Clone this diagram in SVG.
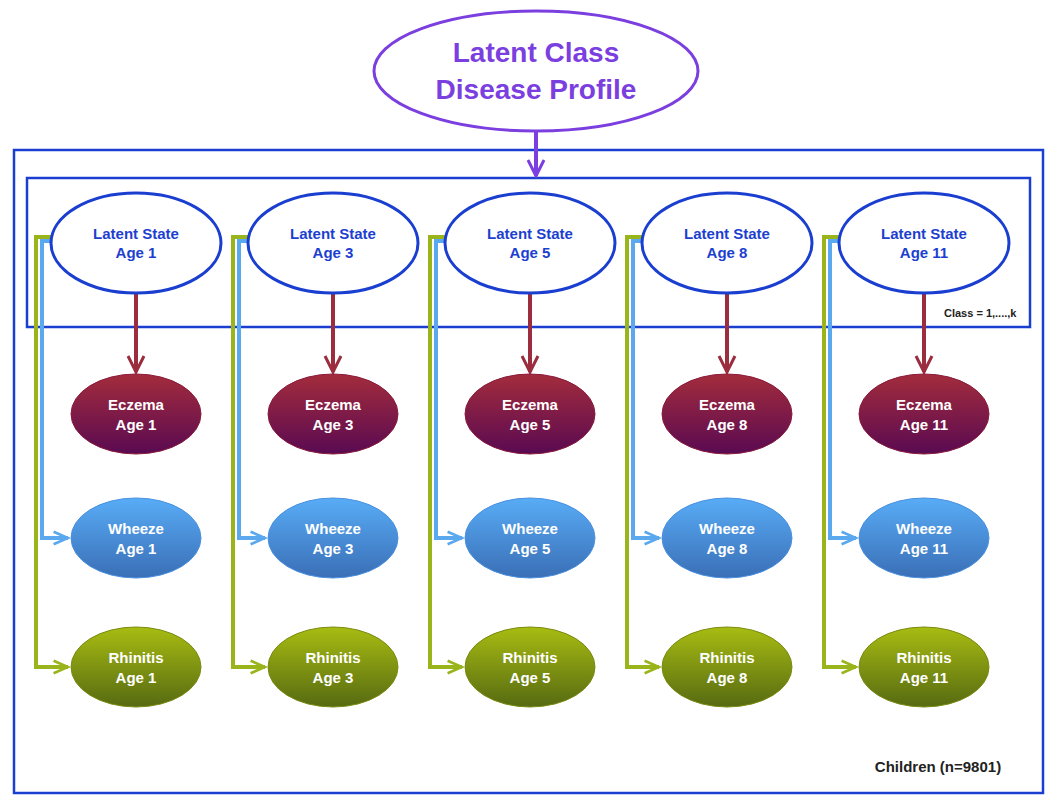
<svg xmlns="http://www.w3.org/2000/svg" width="1049" height="800" viewBox="0 0 1049 800">
<defs>
<linearGradient id="gE" x1="0" y1="0" x2="0" y2="1"><stop offset="0" stop-color="#a32c3c"/><stop offset="1" stop-color="#5a0a52"/></linearGradient>
<linearGradient id="gW" x1="0" y1="0" x2="0" y2="1"><stop offset="0" stop-color="#58acf6"/><stop offset="1" stop-color="#3a6fb6"/></linearGradient>
<linearGradient id="gR" x1="0" y1="0" x2="0" y2="1"><stop offset="0" stop-color="#a8bc12"/><stop offset="1" stop-color="#566a12"/></linearGradient>
<marker id="mR" viewBox="0 0 10 10" refX="9" refY="5" markerWidth="5" markerHeight="5" orient="auto" markerUnits="userSpaceOnUse"><path d="M0,0 L9,5 L0,10" fill="none" stroke="#9b2d3f" stroke-width="1"/></marker>
<marker id="mP" viewBox="0 0 20 20" refX="18" refY="10" markerWidth="20" markerHeight="20" orient="auto" markerUnits="userSpaceOnUse"><path d="M2,2 L18,10 L2,18" fill="none" stroke="#7b3fe0" stroke-width="3"/></marker>
<marker id="mA" viewBox="0 0 20 20" refX="18" refY="10" markerWidth="20" markerHeight="20" orient="auto" markerUnits="userSpaceOnUse"><path d="M2,2 L18,10 L2,18" fill="none" stroke="#9b2d3f" stroke-width="3"/></marker>
<marker id="mB" viewBox="0 0 20 20" refX="18" refY="10" markerWidth="18" markerHeight="18" orient="auto" markerUnits="userSpaceOnUse"><path d="M2,3 L18,10 L2,17" fill="none" stroke="#5aa8ee" stroke-width="3"/></marker>
<marker id="mG" viewBox="0 0 20 20" refX="18" refY="10" markerWidth="18" markerHeight="18" orient="auto" markerUnits="userSpaceOnUse"><path d="M2,3 L18,10 L2,17" fill="none" stroke="#9ab41c" stroke-width="3"/></marker>
<g id="col">
<ellipse cx="0" cy="243" rx="85" ry="50" fill="#fff" stroke="#1a3fd0" stroke-width="3"/>
<text class="ls" x="0" y="239">Latent State</text>
</g>
</defs>
<style>
text{font-family:"Liberation Sans",Arial,sans-serif;font-weight:bold;text-anchor:middle}
.ls{fill:#1d3fd0;font-size:15px}
.w{fill:#fff;font-size:15px}
.ec{fill:url(#gE);stroke:#8a1a3a;stroke-width:1}
.wh{fill:url(#gW);stroke:#4a90e0;stroke-width:1}
.rh{fill:url(#gR);stroke:#7a8a10;stroke-width:1}
.lb{stroke:#5aa8ee;stroke-width:4;fill:none}
.lg{stroke:#9ab41c;stroke-width:4;fill:none}
.lr{stroke:#9b2d3f;stroke-width:4;fill:none}
</style>
<rect width="1049" height="800" fill="#fff"/>
<rect x="14" y="150" width="1029" height="643" fill="none" stroke="#1a3fd0" stroke-width="2.5"/>
<rect x="27" y="178" width="1003" height="149" fill="none" stroke="#1a3fd0" stroke-width="2.5"/>
<text x="944" y="317" style="font-size:11px;fill:#222;text-anchor:start">Class = 1,....,k</text>
<text x="938" y="772" style="font-size:15px;fill:#222">Children (n=9801)</text>
<g id="top">
<ellipse cx="536" cy="71" rx="162" ry="60" fill="#fff" stroke="#7b3fe0" stroke-width="3"/>
<text x="536" y="62" style="font-size:28px;fill:#7b3fe0">Latent Class</text>
<text x="536" y="99" style="font-size:28px;fill:#7b3fe0">Disease Profile</text>
</g>
<g id="connectors">
<line x1="536" y1="131" x2="536" y2="176" stroke="#7b3fe0" stroke-width="4" marker-end="url(#mP)"/>
<g id="c1"><path class="lg" d="M54,237 H36 V667 H68" marker-end="url(#mG)"/><path class="lb" d="M52,241 H42 V538 H68" marker-end="url(#mB)"/><path class="lr" d="M136,293 V372" marker-end="url(#mA)"/></g>
<g transform="translate(197,0)"><path class="lg" d="M54,237 H36 V667 H68" marker-end="url(#mG)"/><path class="lb" d="M52,241 H42 V538 H68" marker-end="url(#mB)"/><path class="lr" d="M136,293 V372" marker-end="url(#mA)"/></g>
<g transform="translate(394,0)"><path class="lg" d="M54,237 H36 V667 H68" marker-end="url(#mG)"/><path class="lb" d="M52,241 H42 V538 H68" marker-end="url(#mB)"/><path class="lr" d="M136,293 V372" marker-end="url(#mA)"/></g>
<g transform="translate(591,0)"><path class="lg" d="M54,237 H36 V667 H68" marker-end="url(#mG)"/><path class="lb" d="M52,241 H42 V538 H68" marker-end="url(#mB)"/><path class="lr" d="M136,293 V372" marker-end="url(#mA)"/></g>
<g transform="translate(788,0)"><path class="lg" d="M54,237 H36 V667 H68" marker-end="url(#mG)"/><path class="lb" d="M52,241 H42 V538 H68" marker-end="url(#mB)"/><path class="lr" d="M136,293 V372" marker-end="url(#mA)"/></g>
</g>
<g id="ls1"><ellipse cx="136" cy="243" rx="85" ry="50" fill="#fff" stroke="#1a3fd0" stroke-width="3"/><text class="ls" x="136" y="239">Latent State</text><text class="ls" x="136" y="258">Age 1</text></g>
<g id="ls3"><ellipse cx="333" cy="243" rx="85" ry="50" fill="#fff" stroke="#1a3fd0" stroke-width="3"/><text class="ls" x="333" y="239">Latent State</text><text class="ls" x="333" y="258">Age 3</text></g>
<g id="ls5"><ellipse cx="530" cy="243" rx="85" ry="50" fill="#fff" stroke="#1a3fd0" stroke-width="3"/><text class="ls" x="530" y="239">Latent State</text><text class="ls" x="530" y="258">Age 5</text></g>
<g id="ls8"><ellipse cx="727" cy="243" rx="85" ry="50" fill="#fff" stroke="#1a3fd0" stroke-width="3"/><text class="ls" x="727" y="239">Latent State</text><text class="ls" x="727" y="258">Age 8</text></g>
<g id="ls11"><ellipse cx="924" cy="243" rx="85" ry="50" fill="#fff" stroke="#1a3fd0" stroke-width="3"/><text class="ls" x="924" y="239">Latent State</text><text class="ls" x="924" y="258">Age 11</text></g>
<g id="ec1"><ellipse class="ec" cx="136" cy="414" rx="65" ry="40"/><text class="w" x="136" y="410">Eczema</text><text class="w" x="136" y="430">Age 1</text></g>
<g id="ec3"><ellipse class="ec" cx="333" cy="414" rx="65" ry="40"/><text class="w" x="333" y="410">Eczema</text><text class="w" x="333" y="430">Age 3</text></g>
<g id="ec5"><ellipse class="ec" cx="530" cy="414" rx="65" ry="40"/><text class="w" x="530" y="410">Eczema</text><text class="w" x="530" y="430">Age 5</text></g>
<g id="ec8"><ellipse class="ec" cx="727" cy="414" rx="65" ry="40"/><text class="w" x="727" y="410">Eczema</text><text class="w" x="727" y="430">Age 8</text></g>
<g id="ec11"><ellipse class="ec" cx="924" cy="414" rx="65" ry="40"/><text class="w" x="924" y="410">Eczema</text><text class="w" x="924" y="430">Age 11</text></g>
<g id="wh1"><ellipse class="wh" cx="136" cy="538" rx="65" ry="40"/><text class="w" x="136" y="534">Wheeze</text><text class="w" x="136" y="554">Age 1</text></g>
<g id="wh3"><ellipse class="wh" cx="333" cy="538" rx="65" ry="40"/><text class="w" x="333" y="534">Wheeze</text><text class="w" x="333" y="554">Age 3</text></g>
<g id="wh5"><ellipse class="wh" cx="530" cy="538" rx="65" ry="40"/><text class="w" x="530" y="534">Wheeze</text><text class="w" x="530" y="554">Age 5</text></g>
<g id="wh8"><ellipse class="wh" cx="727" cy="538" rx="65" ry="40"/><text class="w" x="727" y="534">Wheeze</text><text class="w" x="727" y="554">Age 8</text></g>
<g id="wh11"><ellipse class="wh" cx="924" cy="538" rx="65" ry="40"/><text class="w" x="924" y="534">Wheeze</text><text class="w" x="924" y="554">Age 11</text></g>
<g id="rh1"><ellipse class="rh" cx="136" cy="667" rx="65" ry="40"/><text class="w" x="136" y="663">Rhinitis</text><text class="w" x="136" y="683">Age 1</text></g>
<g id="rh3"><ellipse class="rh" cx="333" cy="667" rx="65" ry="40"/><text class="w" x="333" y="663">Rhinitis</text><text class="w" x="333" y="683">Age 3</text></g>
<g id="rh5"><ellipse class="rh" cx="530" cy="667" rx="65" ry="40"/><text class="w" x="530" y="663">Rhinitis</text><text class="w" x="530" y="683">Age 5</text></g>
<g id="rh8"><ellipse class="rh" cx="727" cy="667" rx="65" ry="40"/><text class="w" x="727" y="663">Rhinitis</text><text class="w" x="727" y="683">Age 8</text></g>
<g id="rh11"><ellipse class="rh" cx="924" cy="667" rx="65" ry="40"/><text class="w" x="924" y="663">Rhinitis</text><text class="w" x="924" y="683">Age 11</text></g>
</svg>
